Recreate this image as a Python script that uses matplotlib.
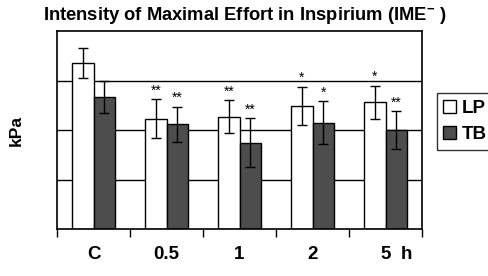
import matplotlib.pyplot as plt
import numpy as np

plt.rcParams['font.family'] = ['Liberation Sans', 'DejaVu Sans']
plt.rcParams['mathtext.fontset'] = 'custom'
plt.rcParams['mathtext.rm'] = 'Liberation Sans:bold'
plt.rcParams['mathtext.bf'] = 'Liberation Sans:bold'

grupos = ['C', '0.5', '1', '2', '5']
lp = [3.36, 2.23, 2.27, 2.49, 2.56]
lp_err = [0.30, 0.39, 0.33, 0.38, 0.33]
tb = [2.67, 2.12, 1.75, 2.15, 2.00]
tb_err = [0.32, 0.35, 0.49, 0.43, 0.38]
lp_sig = ['', '**', '**', '*', '*']
tb_sig = ['', '**', '**', '*', '**']

fig = plt.figure(figsize=(4.89, 2.76), dpi=100)
ax = fig.add_axes([0.1166, 0.1685, 0.7464, 0.7192])

x = np.arange(len(grupos)) + 0.5
w = 0.29
for y in [1, 2, 3]:
    ax.axhline(y, color='black', lw=1.0, zorder=1)

ax.bar(x - w/2, lp, w, color='white', edgecolor='black', lw=1.0, zorder=2, label='LP')
ax.bar(x + w/2, tb, w, color='#4d4d4d', edgecolor='black', lw=1.0, zorder=2, label='TB')
ax.errorbar(x - w/2, lp, yerr=lp_err, fmt='none', ecolor='black', elinewidth=1.0,
            capsize=3.5, capthick=1.0, zorder=3)
ax.errorbar(x + w/2, tb, yerr=tb_err, fmt='none', ecolor='black', elinewidth=1.0,
            capsize=3.5, capthick=1.0, zorder=3)

for i in range(len(grupos)):
    if lp_sig[i]:
        ax.text(x[i] - w/2, lp[i] + lp_err[i] + 0.04, lp_sig[i], ha='center', va='bottom',
                fontsize=10)
    if tb_sig[i]:
        ax.text(x[i] + w/2, tb[i] + tb_err[i] + 0.04, tb_sig[i], ha='center', va='bottom',
                fontsize=10)

ax.set_xlim(0, 5)
ax.set_ylim(0, 4)
ax.set_yticks([])
ax.set_xticks(np.arange(6))
ax.set_xticklabels([])
ax.tick_params(axis='x', which='major', length=6, width=1.0, direction='out')
ax.set_xticks(x, minor=True)
ax.set_xticklabels(grupos, minor=True, fontsize=13.5, fontweight='bold')
ax.tick_params(axis='x', which='minor', length=0, pad=12)
ax.annotate('h', xy=(4.79, 0), xycoords=('data', 'axes fraction'),
            xytext=(0, -12), textcoords='offset points', ha='center', va='top',
            fontsize=13.5, fontweight='bold')

for s in ax.spines.values():
    s.set_linewidth(1.2)

ax.set_ylabel('kPa', fontsize=12.5, fontweight='bold', labelpad=24)
fig.text(0.5, 0.945, 'Intensity of Maximal Effort in Inspirium (IME$^{-}$ )',
         ha='center', va='center', fontsize=13.2, fontweight='bold')

fig.legend(loc='upper left', bbox_to_anchor=(0.893, 0.663),
           prop={'weight': 'bold', 'size': 13.5}, frameon=True, fancybox=False,
           edgecolor='black', handlelength=0.7, handleheight=0.7, handletextpad=0.3,
           borderpad=0.35, labelspacing=0.5, borderaxespad=0)

fig.savefig('out.png', dpi=100)
